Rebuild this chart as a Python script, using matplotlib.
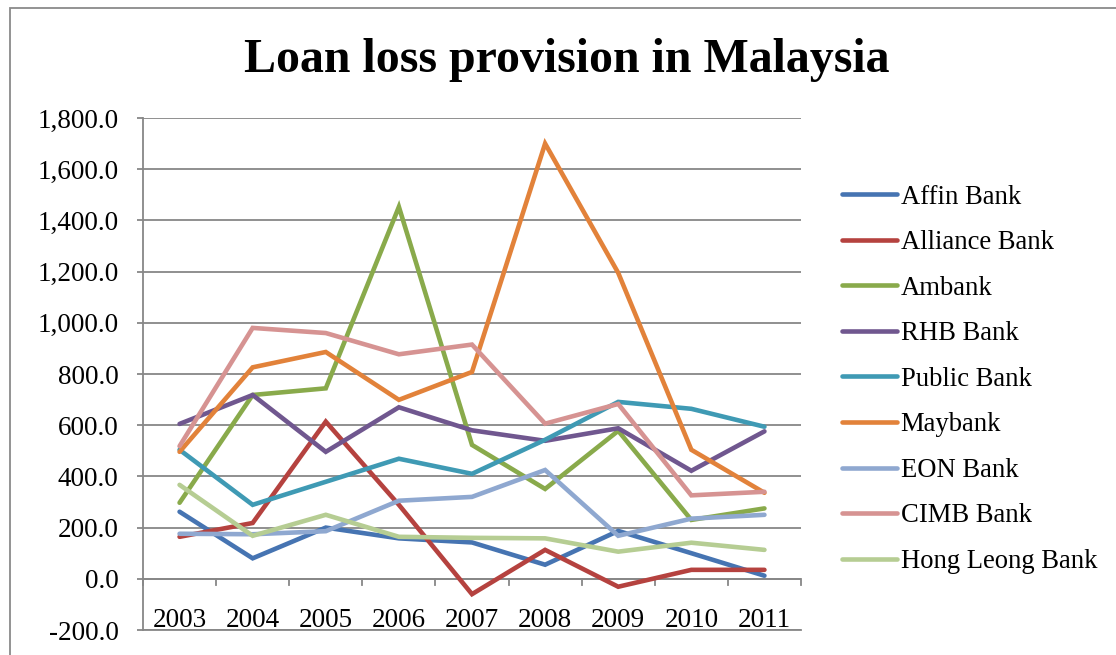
import matplotlib.pyplot as plt
from matplotlib.patches import Rectangle
from matplotlib.ticker import FuncFormatter

years = ['2003', '2004', '2005', '2006', '2007', '2008', '2009', '2010', '2011']

affin = [262, 80, 200, 158, 142, 55, 187, 100, 12]
alliance = [164, 218, 614, 289, -60, 113, -31, 35, 35]
ambank = [297, 718, 744, 1453, 523, 351, 578, 230, 275]
rhb = [605, 718, 496, 670, 580, 539, 588, 422, 576]
public = [504, 289, 379, 469, 410, 543, 691, 664, 594]
maybank = [496, 826, 886, 699, 808, 1700, 1195, 504, 336]
eon = [176, 174, 186, 305, 320, 425, 168, 235, 250]
cimb = [518, 980, 960, 877, 915, 606, 683, 326, 340]
hongleong = [367, 168, 250, 164, 160, 158, 106, 141, 113]

names = ['Affin Bank', 'Alliance Bank', 'Ambank', 'RHB Bank', 'Public Bank',
         'Maybank', 'EON Bank', 'CIMB Bank', 'Hong Leong Bank']
series = [affin, alliance, ambank, rhb, public, maybank, eon, cimb, hongleong]
colors = ['#4674B2', '#B5423F', '#89AA4B', '#70578F', '#3F9AB4',
          '#E2823A', '#8FA8D0', '#D69392', '#B6CD93']

plt.rcParams['font.family'] = ['Liberation Serif', 'DejaVu Serif']

fig = plt.figure(figsize=(11.16, 6.55), dpi=100)
fig.patches.append(Rectangle((10 / 1116, -0.1), 1.2, (655 - 8) / 655 + 0.1,
                             transform=fig.transFigure, fill=False,
                             edgecolor='#8a8a8a', linewidth=1.3))

ax = fig.add_axes([143 / 1116, 25 / 655, 658 / 1116, 512 / 655])
x = list(range(len(years)))
for vals, name, c in zip(series, names, colors):
    ax.plot(x, vals, color=c, linewidth=3.3, label=name, solid_capstyle='round',
            solid_joinstyle='miter')

ax.set_xlim(-0.5, len(years) - 0.5)
ax.set_ylim(-200, 1800)
ax.set_yticks(range(-200, 1801, 200))
ax.yaxis.set_major_formatter(FuncFormatter(lambda v, p: f'{v:,.1f}'))
ax.yaxis.grid(True, color='#878787', linewidth=1.3)
ax.set_axisbelow(True)

for s in ['top', 'right']:
    ax.spines[s].set_visible(False)
for s in ['left', 'bottom']:
    ax.spines[s].set_color('#878787')
    ax.spines[s].set_linewidth(1.3)

# category axis sits on the zero line
ax.axhline(0, color='#878787', linewidth=1.3, zorder=0.5)
ax.set_xticks([])
for b in [i - 0.5 for i in range(len(years) + 1)]:
    ax.plot([b, b], [0, -26], color='#878787', linewidth=1.3, clip_on=False, zorder=0.5)
for i, yr in enumerate(years):
    ax.text(i, -162, yr, ha='center', va='center', fontsize=19.5)

ax.tick_params(axis='y', length=4.5, width=1.3, color='#878787', labelsize=19.5, pad=13)

fig.text(567 / 1116, 1 - 60 / 655, 'Loan loss provision in Malaysia',
         ha='center', va='center', fontsize=34.5, fontweight='bold')

fig.legend(loc='upper left', bbox_to_anchor=(831 / 1116, 1 - 174 / 655),
           frameon=False, fontsize=19.2, handlelength=2.06, handletextpad=0.15,
           labelspacing=0.77, borderaxespad=0)

fig.savefig('out.png', dpi=100)
